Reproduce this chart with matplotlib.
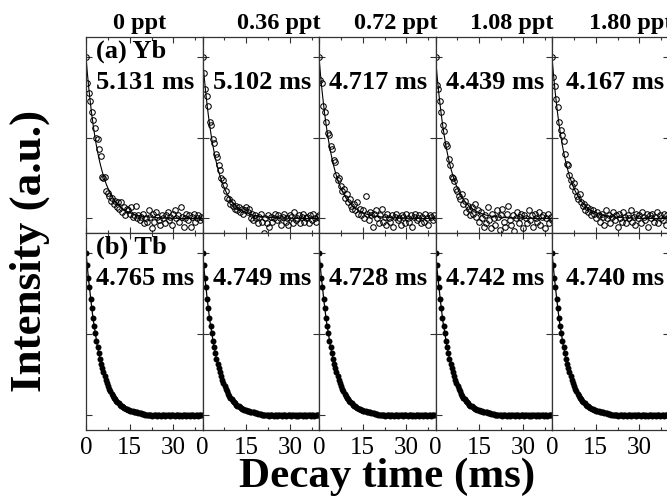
import numpy as np
import matplotlib
matplotlib.use("Agg")
import matplotlib.pyplot as plt
from matplotlib.ticker import MultipleLocator

plt.rcParams['font.family'] = ['Liberation Serif', 'DejaVu Serif']

# ---------------- data ----------------
concentrations = ["0 ppt", "0.36 ppt", "0.72 ppt", "1.08 ppt", "1.80 ppt"]
yb_lifetimes = ["5.131 ms", "5.102 ms", "4.717 ms", "4.439 ms", "4.167 ms"]
tb_lifetimes = ["4.765 ms", "4.749 ms", "4.728 ms", "4.742 ms", "4.740 ms"]
row_labels = ["(a) Yb", "(b) Tb"]

yb_dt = 0.5   # ms between Yb samples
tb_dt = 0.4   # ms between Tb samples

yb1 = [1.00, 0.84, 0.78, 0.73, 0.66, 0.61, 0.56, 0.50, 0.49, 0.43,
       0.39, 0.26, 0.25, 0.26, 0.17, 0.16, 0.14, 0.11, 0.13, 0.09,
       0.11, 0.07, 0.10, 0.06, 0.10, 0.04, 0.07, 0.02, 0.06, 0.05,
       0.03, 0.07, 0.01, 0.02, 0.08, 0.00, 0.02, -0.01, 0.01, 0.03,
       -0.03, 0.00, -0.02, 0.05, 0.01, -0.06, 0.03, -0.02, 0.04, 0.01,
       -0.01, -0.04, 0.02, 0.00, -0.03, 0.02, 0.04, -0.01, 0.01, -0.04,
       0.03, 0.05, 0.00, 0.02, -0.02, 0.07, 0.01, -0.05, 0.00, 0.03,
       -0.01, 0.02, -0.05, 0.01, 0.03, -0.02, 0.00, 0.02, -0.01, 0.01, 0.00]
yb2 = [1.00, 0.90, 0.80, 0.76, 0.70, 0.60, 0.58, 0.49, 0.47, 0.40,
       0.38, 0.33, 0.30, 0.25, 0.24, 0.21, 0.17, 0.13, 0.12, 0.09,
       0.10, 0.08, 0.06, 0.08, 0.05, 0.07, 0.04, 0.06, 0.03, 0.05,
       0.07, 0.04, 0.06, 0.00, 0.03, -0.01, 0.02, 0.00, -0.03, 0.01,
       0.03, -0.02, -0.09, 0.00, -0.03, 0.02, -0.05, 0.01, -0.02, 0.00,
       0.03, -0.01, 0.02, 0.00, -0.04, 0.01, 0.03, -0.02, 0.00, -0.04,
       0.02, 0.01, -0.03, 0.04, -0.01, 0.00, 0.02, -0.03, 0.01, 0.03,
       -0.02, 0.00, 0.01, -0.03, 0.02, -0.01, 0.03, 0.00, -0.02, 0.01, 0.02]
yb3 = [1.00, 0.86, 0.84, 0.70, 0.66, 0.60, 0.53, 0.52, 0.45, 0.43,
       0.36, 0.35, 0.27, 0.24, 0.25, 0.20, 0.17, 0.18, 0.13, 0.15,
       0.10, 0.12, 0.08, 0.06, 0.09, 0.05, 0.10, 0.03, 0.06, 0.02,
       0.05, 0.00, 0.14, 0.03, -0.01, 0.04, 0.02, -0.05, 0.03, 0.05,
       0.00, -0.03, 0.02, 0.06, -0.02, 0.01, -0.04, 0.03, 0.00, -0.02,
       0.02, -0.05, 0.01, 0.03, -0.01, 0.00, -0.04, 0.02, 0.01, -0.03,
       0.03, 0.00, -0.02, 0.02, -0.05, 0.01, 0.03, -0.01, 0.00, 0.02,
       -0.03, 0.01, -0.02, 0.03, 0.00, -0.04, 0.02, 0.01, -0.01, 0.02, 0.00]
yb4 = [1.00, 0.83, 0.80, 0.73, 0.66, 0.58, 0.54, 0.46, 0.45, 0.37,
       0.33, 0.26, 0.25, 0.23, 0.18, 0.17, 0.14, 0.12, 0.15, 0.09,
       0.11, 0.04, 0.08, 0.06, 0.02, 0.07, 0.03, 0.09, 0.01, 0.05,
       -0.02, 0.04, 0.00, -0.05, 0.02, -0.03, 0.07, -0.01, -0.06, 0.03,
       0.00, -0.04, 0.05, 0.01, -0.07, 0.02, 0.06, -0.02, -0.05, 0.03,
       0.08, -0.01, -0.04, 0.02, -0.08, 0.00, 0.04, -0.03, 0.01, 0.03,
       -0.06, 0.02, 0.00, -0.03, 0.05, -0.01, 0.02, -0.05, 0.03, 0.00,
       -0.02, 0.04, -0.04, 0.01, 0.02, -0.06, 0.00, 0.03, -0.03, 0.01, -0.01]
yb5 = [1.00, 0.88, 0.82, 0.74, 0.69, 0.60, 0.55, 0.52, 0.48, 0.40,
       0.34, 0.33, 0.27, 0.24, 0.20, 0.22, 0.17, 0.14, 0.12, 0.15,
       0.10, 0.08, 0.09, 0.05, 0.07, 0.04, 0.06, 0.02, 0.05, 0.03,
       0.00, 0.04, 0.02, -0.02, 0.03, 0.01, -0.04, 0.05, 0.00, 0.02,
       -0.03, 0.01, 0.04, -0.01, 0.02, -0.05, 0.03, 0.00, -0.02, 0.04,
       0.01, -0.03, 0.02, 0.00, 0.05, -0.02, 0.01, -0.04, 0.03, 0.00,
       0.02, -0.03, 0.04, 0.01, -0.01, 0.03, -0.05, 0.02, 0.00, 0.03,
       -0.02, 0.01, 0.04, -0.03, 0.02, 0.00, -0.01, 0.03, -0.04, 0.02, 0.01]
yb_series = [yb1, yb2, yb3, yb4, yb5]

# fitted decay curve drawn through the Yb points
fit_t = [0, 0.5, 1, 1.5, 2, 2.5, 3, 3.5, 4, 4.5, 5, 5.5, 6, 6.5, 7, 7.5, 8, 8.5,
         9, 9.5, 10, 11, 12, 13, 14, 15, 16, 17, 18, 19, 20, 25, 30, 35, 40]
fit_v = [1.000, 0.895, 0.800, 0.717, 0.641, 0.574, 0.513, 0.459, 0.411, 0.368,
         0.329, 0.295, 0.264, 0.236, 0.211, 0.189, 0.169, 0.151, 0.135, 0.121,
         0.108, 0.087, 0.069, 0.056, 0.045, 0.036, 0.029, 0.023, 0.018, 0.015,
         0.012, 0.004, 0.001, 0.0, 0.0]

# Tb decay (identical-looking in all five panels)
tb = [1.00, 0.93, 0.85, 0.79, 0.72, 0.66, 0.60, 0.55, 0.51, 0.46,
      0.42, 0.385, 0.35, 0.32, 0.29, 0.265, 0.24, 0.22, 0.20, 0.18,
      0.165, 0.15, 0.135, 0.122, 0.11, 0.10, 0.09, 0.082, 0.074, 0.067,
      0.061, 0.055, 0.050, 0.046, 0.042, 0.038, 0.035, 0.032, 0.029, 0.027,
      0.025, 0.022, 0.021, 0.019, 0.018, 0.015, 0.014, 0.012, 0.011, 0.009,
      0.008, 0.004, 0.003, 0.002, 0.003, 0.000,
      0.002, -0.001, 0.001, 0.003, 0.000, -0.002, 0.002, 0.001, -0.001, 0.002,
      0.000, 0.001, -0.002, 0.002, 0.001, 0.000, -0.001, 0.002, 0.003, 0.000,
      -0.002, 0.001, 0.000, 0.002, -0.001, 0.001, -0.003, 0.000, 0.002, 0.001,
      -0.001, 0.000, 0.002, -0.002, 0.001, 0.000, 0.001, -0.001, 0.002, 0.000,
      -0.002, 0.001, 0.000, 0.001, 0.000]

x_ticks = [0, 15, 30]
title_x = [0.23, 0.30, 0.30, 0.30, 0.32]

# ---------------- figure ----------------
fig = plt.figure(figsize=(6.67, 4.96), dpi=100)
left, right = 86 / 667, 668.5 / 667
top, bottom = 1 - 37 / 496, 1 - 430 / 496
mid = 1 - 233 / 496
ncol = 5
w = (right - left) / ncol
spine_col = '#333333'

for r in range(2):
    for c in range(ncol):
        if r == 0:
            ax = fig.add_axes([left + c * w, mid, w, top - mid])
        else:
            ax = fig.add_axes([left + c * w, bottom, w, mid - bottom])
        ax.set_xlim(0, 40)
        ax.set_ylim(-0.09, 1.125)
        ax.xaxis.set_major_locator(plt.FixedLocator(x_ticks))
        ax.xaxis.set_minor_locator(MultipleLocator(7.5))
        ax.set_yticks([0, 0.5, 1.0])
        ax.tick_params(axis='both', which='both', direction='in', top=True,
                       right=True, color=spine_col, width=0.8)
        ax.tick_params(which='major', length=4)
        ax.tick_params(which='minor', length=2.5)
        ax.set_yticklabels([])
        for s in ax.spines.values():
            s.set_color(spine_col)
            s.set_linewidth(0.9)
        if r == 0:
            ax.set_xticklabels([])
            yv = yb_series[c]
            ty = np.arange(len(yv)) * yb_dt
            ax.plot(ty, yv, 'o', mfc='none', mec='black', ms=4.0, mew=0.75)
            ax.plot(fit_t, fit_v, '-', color='black', lw=0.8)
            ax.text(title_x[c], 1.04, concentrations[c], transform=ax.transAxes,
                    ha='left', va='baseline', fontsize=17.5, fontweight='bold')
            if c == 0:
                ax.text(0.09, 0.895, row_labels[0], transform=ax.transAxes,
                        fontsize=19, fontweight='bold', va='baseline')
            ax.text(0.09 if c < 4 else 0.12, 0.735, yb_lifetimes[c],
                    transform=ax.transAxes, fontsize=19, fontweight='bold',
                    va='baseline')
        else:
            tt = np.arange(len(tb)) * tb_dt
            ax.plot(tt, tb, '-', color='black', lw=0.9)
            ax.plot(tt, tb, 'o', color='black', ms=4.3, mew=0)
            ax.set_xticklabels([str(v) for v in x_ticks], fontsize=18)
            ax.tick_params(axis='x', which='major', pad=5)
            if c == 0:
                ax.text(0.09, 0.895, row_labels[1], transform=ax.transAxes,
                        fontsize=19, fontweight='bold', va='baseline')
            ax.text(0.09 if c < 4 else 0.12, 0.735, tb_lifetimes[c],
                    transform=ax.transAxes, fontsize=19, fontweight='bold',
                    va='baseline')

fig.text(0.045, 0.495, "Intensity (a.u.)", rotation=90, ha='center',
         va='center', fontsize=32.5, fontweight='bold')
fig.text(0.58, 1 - 487 / 496, "Decay time (ms)", ha='center', va='baseline',
         fontsize=31, fontweight='bold')

fig.savefig("out.png", dpi=100)
